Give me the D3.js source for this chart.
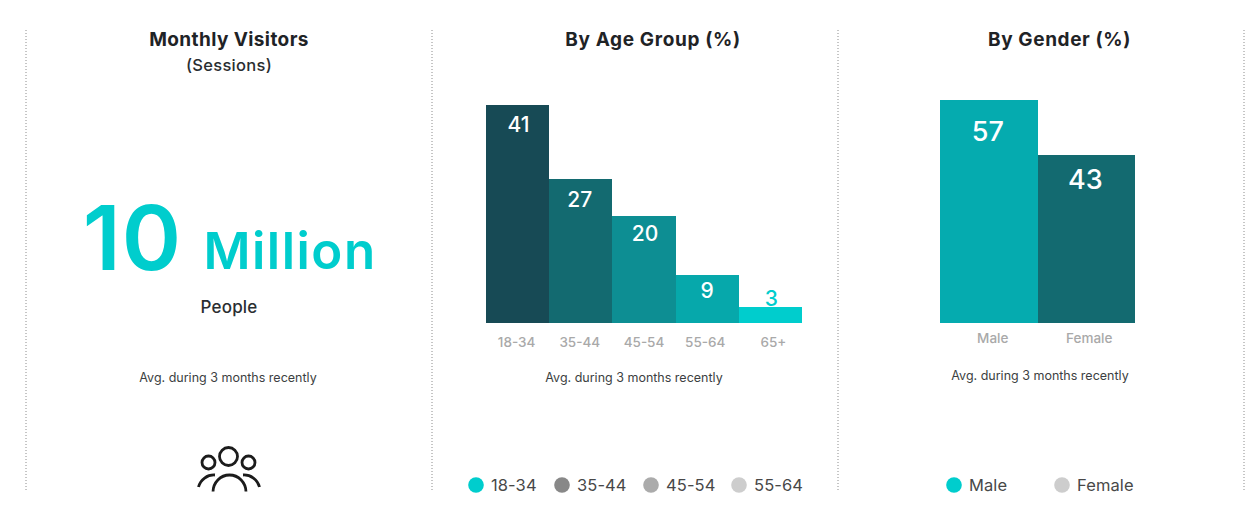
<!DOCTYPE html>
<html>
<head>
	<title>visitors</title>
	<meta charset="utf-8">
	<style type="text/css">
		html, body { margin: 0; padding: 0; background: #fff; }
		svg { display: block; }
		text { font-family: Inter, "Noto Sans", sans-serif; }
		.domain { display: none; }
	</style>
</head>
<body>
<script type="text/javascript" src="https://cdn.jsdelivr.net/npm/d3@7/dist/d3.min.js"></script>
<script type="text/javascript">
	// data
	var ageGroups = ["18-34", "35-44", "45-54", "55-64", "65+"];
	var ageValues = [41, 27, 20, 9, 3];
	var genders = ["Male", "Female"];
	var genderValues = [57, 43];
	var ageLegend = ["18-34", "35-44", "45-54", "55-64"];
	var genderLegend = ["Male", "Female"];

	// colours
	var ageColors = ["#174a55", "#136a70", "#0d8e93", "#06a8ab", "#00cdcd"];
	var genderColors = ["#05abaf", "#136a70"];
	var ageLegendColors = ["#00cdcd", "#888888", "#ababab", "#cdcdcd"];
	var genderLegendColors = ["#00cdcd", "#cdcdcd"];

	var w = 1259;
	var h = 514;
	var svg = d3.select("body").append("svg").attr("width", w).attr("height", h);

	/*=====DIVIDERS======*/
	svg.selectAll("line.divider")
		.data([26, 432, 838, 1244])
		.enter().append("line")
		.attr("class", "divider")
		.attr("x1", d => d).attr("x2", d => d)
		.attr("y1", 30).attr("y2", 492)
		.attr("stroke", "#8c8c8c")
		.attr("stroke-width", 1)
		.attr("stroke-dasharray", "1 2");

	function label(x, y, str, size, weight, fill, spacing) {
		return svg.append("text")
			.attr("x", x).attr("y", y)
			.attr("text-anchor", "middle")
			.attr("font-size", size)
			.attr("font-weight", weight)
			.attr("letter-spacing", spacing || 0)
			.attr("fill", fill)
			.text(str);
	}

	/*=====LEFT PANEL======*/
	label(229, 46, "Monthly Visitors", 19, 700, "#1f2326", 0.4);
	label(229, 71, "(Sessions)", 16.5, 500, "#2a2e31", 0.3);
	label(132.5, 270, "10", 90, 600, "#00cdcd", 1);
	label(290, 269, "Million", 51, 600, "#00cdcd", 1.5);
	label(229, 313, "People", 17, 500, "#2a2e31", 0.2);
	label(228, 382, "Avg. during 3 months recently", 12.5, 400, "#3c3f42");

	// people icon, cut at the bottom like the panel
	svg.append("clipPath").attr("id", "iconClip")
		.append("rect").attr("x", 190).attr("y", 440).attr("width", 80).attr("height", 51.5);
	var icon = svg.append("g").attr("clip-path", "url(#iconClip)")
		.attr("fill", "none").attr("stroke", "#1c1c1c").attr("stroke-width", 2.8);
	icon.append("circle").attr("cx", 228.5).attr("cy", 456.5).attr("r", 9);
	icon.append("circle").attr("cx", 208.5).attr("cy", 462.5).attr("r", 6.5);
	icon.append("circle").attr("cx", 248.5).attr("cy", 462.5).attr("r", 6.5);
	icon.append("path").attr("d", "M213,492 A16.5,17 0 0 1 246,492");
	icon.append("path").attr("d", "M198.5,487 A16,16 0 0 1 215,475");
	icon.append("path").attr("d", "M259.5,487 A16,16 0 0 0 243,475");

	/*=====BAR PANELS======*/
	function barPanel(cats, vals, colors, x0, x1, yTop, maxVal, valSize, valDy, valDx, tickDx, tickDy) {
		var x = d3.scaleBand().domain(cats).range([x0, x1]).padding(0);
		var y = d3.scaleLinear().domain([0, maxVal]).range([322.5, yTop]);
		var g = svg.append("g");

		g.selectAll("rect")
			.data(vals)
			.enter().append("rect")
			.attr("x", (d, i) => x(cats[i]))
			.attr("y", d => y(d))
			.attr("width", x.bandwidth())
			.attr("height", d => y(0) - y(d))
			.attr("shape-rendering", "crispEdges")
			.attr("fill", (d, i) => colors[i]);

		g.selectAll("text.val")
			.data(vals)
			.enter().append("text")
			.attr("class", "val")
			.attr("x", (d, i) => x(cats[i]) + x.bandwidth() / 2 + valDx[i])
			.attr("y", (d, i) => y(d) + valDy[i])
			.attr("text-anchor", "middle")
			.attr("font-size", valSize)
			.attr("font-weight", 500)
			.attr("fill", (d, i) => d < 5 ? "#00cdcd" : "#fff")
			.text(d => d);

		var axis = g.append("g")
			.attr("transform", "translate(0,322)")
			.call(d3.axisBottom(x).tickSize(0).tickPadding(0));
		axis.selectAll("text")
			.attr("x", (d, i) => tickDx[i])
			.attr("y", tickDy)
			.attr("dy", 0)
			.attr("font-size", 13.5)
			.attr("font-weight", 500)
			.attr("fill", "#a9a9a9");
	}

	barPanel(ageGroups, ageValues, ageColors, 486, 802, 105, 41, 21,
		[27, 28, 25, 23, -1], [1, -1, 1, 0, 1], [-1, -1, 0, -2, 3], 25);
	barPanel(genders, genderValues, genderColors, 940, 1135, 100, 57, 27,
		[41, 34], [-1, -1], [4, 3], 21);

	label(634, 382, "Avg. during 3 months recently", 12.5, 400, "#3c3f42");
	label(1040, 380, "Avg. during 3 months recently", 12.5, 400, "#3c3f42");

	label(653, 46, "By Age Group (%)", 19, 700, "#1f2326", 0.65);
	label(1059.5, 46, "By Gender (%)", 19, 700, "#1f2326", 0.6);

	/*=====LEGENDS======*/
	function legend(names, colors, dotX) {
		var g = svg.append("g").selectAll("g")
			.data(names)
			.enter().append("g")
			.attr("transform", (d, i) => "translate(" + dotX[i] + ",485)");
		g.append("circle").attr("r", 7.8).attr("fill", (d, i) => colors[i]);
		g.append("text")
			.attr("x", 15)
			.attr("y", 6)
			.attr("font-size", 16.5)
			.attr("font-weight", 400)
			.attr("letter-spacing", 0.1)
			.attr("fill", "#484848")
			.text(d => d);
	}
	legend(ageLegend, ageLegendColors, [476, 562, 651, 739]);
	legend(genderLegend, genderLegendColors, [954, 1062]);
</script>
</body>
</html>
